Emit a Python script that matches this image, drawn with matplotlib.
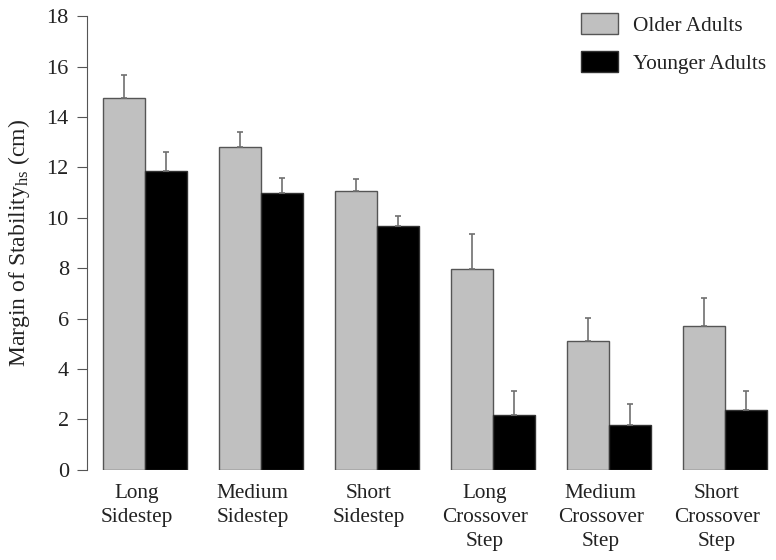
import matplotlib
matplotlib.use("Agg")
import matplotlib.pyplot as plt
import numpy as np

categories = ["Long\nSidestep", "Medium\nSidestep", "Short\nSidestep",
              "Long\nCrossover\nStep", "Medium\nCrossover\nStep", "Short\nCrossover\nStep"]
older = [14.75, 12.8, 11.07, 7.96, 5.12, 5.69]
older_err = [0.9, 0.62, 0.48, 1.41, 0.92, 1.14]
younger = [11.84, 10.99, 9.68, 2.17, 1.77, 2.38]
younger_err = [0.76, 0.6, 0.4, 0.94, 0.84, 0.73]
yticks = [0, 2, 4, 6, 8, 10, 12, 14, 16, 18]

plt.rcParams['font.family'] = ['Liberation Serif', 'DejaVu Serif']
plt.rcParams['mathtext.fontset'] = 'custom'
plt.rcParams['mathtext.rm'] = 'Liberation Serif'
plt.rcParams['mathtext.it'] = 'Liberation Serif'

fig = plt.figure(figsize=(7.76, 5.6), dpi=100)
ax = fig.add_axes([0.112, 0.161, 0.879, 0.81])

x = np.arange(len(categories))
w = 0.362
ekw = dict(ecolor='#707070', elinewidth=1.2, capsize=2.5, capthick=1.2)
ax.bar(x - w/2, older, w, color='#c0c0c0', edgecolor='#555555', linewidth=1.0,
       yerr=[np.zeros(len(older)), older_err], error_kw=ekw, label='Older Adults')
ax.bar(x + w/2, younger, w, color='#000000', edgecolor='#333333', linewidth=1.0,
       yerr=[np.zeros(len(younger)), younger_err], error_kw=ekw, label='Younger Adults')

ax.set_xlim(-0.5, 5.38)
ax.set_ylim(0, 18)
ax.set_yticks(yticks)
ax.set_xticks(x - 0.07)
ax.set_xticklabels(categories, fontsize=15.3, linespacing=1.38, color='#222222')
ax.tick_params(axis='x', length=0, pad=10)
ax.tick_params(axis='y', labelsize=16, length=7, color='#555555', direction='out',
               pad=6, labelcolor='#222222')
for s in ['top', 'right', 'bottom']:
    ax.spines[s].set_visible(False)
ax.spines['left'].set_color('#555555')
ax.set_ylabel(r'Margin of Stability$_{\mathrm{hs}}$ (cm)', fontsize=17, color='#222222')
ax.yaxis.set_label_coords(-0.08, 0.5)

leg = ax.legend(loc='upper right', bbox_to_anchor=(1.024, 1.05), frameon=False, fontsize=15.3,
                handlelength=1.75, handleheight=1.2, labelspacing=0.7, handletextpad=0.7,
                labelcolor='#222222')

fig.savefig('out.png', dpi=100)
